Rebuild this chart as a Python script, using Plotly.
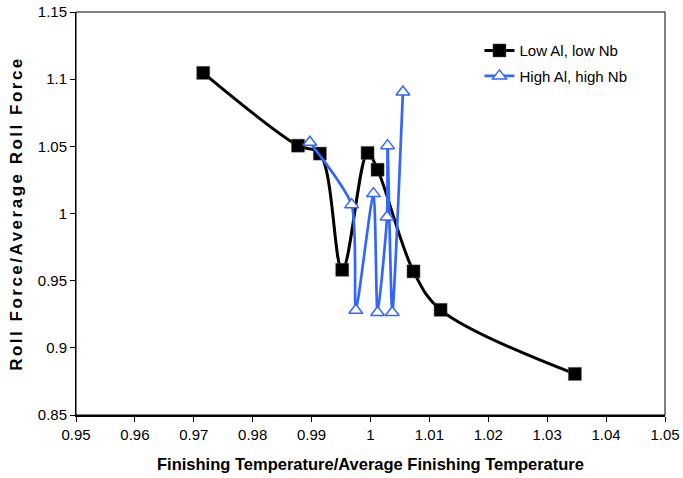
import plotly.graph_objects as go

# Roll force vs finishing temperature, both normalised by their averages
low_x = [0.9716, 0.9877, 0.9914, 0.9952, 0.9995, 1.0012, 1.0073, 1.0119, 1.0347]
low_y = [1.1047, 1.0505, 1.0446, 0.9581, 1.0451, 1.0326, 0.9569, 0.9283, 0.8806]

high_x = [0.9897, 0.9968, 0.9975, 1.0005, 1.0012, 1.0028, 1.0029, 1.0037, 1.0055]
high_y = [1.0530, 1.0066, 0.9280, 1.0148, 0.9263, 0.9974, 1.0505, 0.9263, 1.0905]

x_ticks = [0.95, 0.96, 0.97, 0.98, 0.99, 1.0, 1.01, 1.02, 1.03, 1.04, 1.05]
x_tick_text = ["0.95", "0.96", "0.97", "0.98", "0.99", "1", "1.01", "1.02", "1.03", "1.04", "1.05"]
y_ticks = [0.85, 0.9, 0.95, 1.0, 1.05, 1.1, 1.15]
y_tick_text = ["0.85", "0.9", "0.95", "1", "1.05", "1.1", "1.15"]

BLUE = "#3366FF"
FONT = "Liberation Sans, Arial, sans-serif"

fig = go.Figure()

fig.add_trace(go.Scatter(
    x=low_x, y=low_y, name="Low Al, low Nb", mode="lines+markers",
    legendgroup="low",
    line=dict(color="black", width=3, shape="spline", smoothing=1.0),
    marker=dict(symbol="square", size=13, color="black",
                line=dict(color="#555555", width=0.5)),
))

fig.add_trace(go.Scatter(
    x=high_x, y=high_y, name="High Al, high Nb", mode="lines+markers",
    legendgroup="high",
    line=dict(color=BLUE, width=2.7, shape="spline", smoothing=0.6),
    marker=dict(symbol="triangle-up", size=12, color="white",
                line=dict(color=BLUE, width=1.5)),
))

fig.update_layout(
    width=683, height=478,
    margin=dict(l=76, r=18, t=12, b=63),
    paper_bgcolor="white", plot_bgcolor="white",
    font=dict(family=FONT, size=15, color="black"),
    showlegend=True,
    legend=dict(
        x=0.685, y=0.945, xanchor="left", yanchor="top",
        bgcolor="rgba(0,0,0,0)", borderwidth=0,
        font=dict(family=FONT, size=15, color="black"),
        traceorder="grouped", tracegroupgap=3,
    ),
    xaxis=dict(
        range=[0.95, 1.05], tickmode="array", tickvals=x_ticks, ticktext=x_tick_text,
        showgrid=False, zeroline=False, automargin=False,
        showline=True, linecolor="black", linewidth=2,
        ticks="outside", ticklen=5, tickwidth=1, tickcolor="black",
        tickfont=dict(family=FONT, size=15),
        title=dict(text="<b>Finishing Temperature/Average Finishing Temperature</b>",
                   font=dict(family=FONT, size=16.5), standoff=16),
    ),
    yaxis=dict(
        range=[0.85, 1.15], tickmode="array", tickvals=y_ticks, ticktext=y_tick_text,
        showgrid=False, zeroline=False, automargin=False,
        showline=True, linecolor="black", linewidth=1,
        ticks="outside", ticklen=5, tickwidth=1, tickcolor="black",
        tickfont=dict(family=FONT, size=15),
        title=dict(text='<span style="letter-spacing:2.5px"><b>Roll Force/Average Roll Force</b></span>',
                   font=dict(family=FONT, size=17), standoff=10),
    ),
    shapes=[dict(type="rect", xref="paper", yref="paper", x0=0, y0=0, x1=1, y1=1,
                 line=dict(color="black", width=1), layer="above")],
)

fig.write_html("out.html")
